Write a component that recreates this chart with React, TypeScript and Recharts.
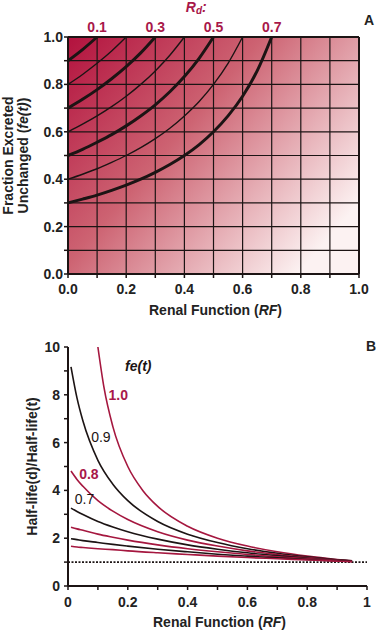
import React from "react";
import {
  LineChart,
  Line,
  XAxis,
  YAxis,
  CartesianGrid,
  ReferenceLine,
  ReferenceDot,
} from "recharts";

const FONT = "'Liberation Sans', Arial, sans-serif";
const INK = "#1c1414";
const CRIMSON = "#a5173f";
const LABEL_RED = "#a8184a";

// panel A: Rd contours, [renal function, fe(t)]
const rd01: number[][] = [[0, 0.9], [0.05, 0.947], [0.1, 1.0]];
const rd02: number[][] = [[0, 0.8], [0.05, 0.842], [0.1, 0.889], [0.15, 0.941], [0.2, 1.0]];
const rd03: number[][] = [
  [0, 0.7], [0.05, 0.737], [0.1, 0.778], [0.15, 0.824], [0.2, 0.875], [0.25, 0.933], [0.3, 1.0],
];
const rd04: number[][] = [
  [0, 0.6], [0.05, 0.632], [0.1, 0.667], [0.15, 0.706], [0.2, 0.75], [0.25, 0.8],
  [0.3, 0.857], [0.35, 0.923], [0.4, 1.0],
];
const rd05: number[][] = [
  [0, 0.5], [0.05, 0.526], [0.1, 0.556], [0.15, 0.588], [0.2, 0.625], [0.25, 0.667],
  [0.3, 0.714], [0.35, 0.769], [0.4, 0.833], [0.45, 0.909], [0.5, 1.0],
];
const rd06: number[][] = [
  [0, 0.4], [0.05, 0.421], [0.1, 0.444], [0.15, 0.471], [0.2, 0.5], [0.25, 0.533],
  [0.3, 0.571], [0.35, 0.615], [0.4, 0.667], [0.45, 0.727], [0.5, 0.8], [0.55, 0.889], [0.6, 1.0],
];
const rd07: number[][] = [
  [0, 0.3], [0.05, 0.316], [0.1, 0.333], [0.15, 0.353], [0.2, 0.375], [0.25, 0.4],
  [0.3, 0.429], [0.35, 0.462], [0.4, 0.5], [0.45, 0.545], [0.5, 0.6], [0.55, 0.667],
  [0.6, 0.75], [0.65, 0.857], [0.7, 1.0],
];
const rdLabels = ["0.1", "0.3", "0.5", "0.7"];
const tenthTicks = [0, 0.1, 0.2, 0.3, 0.4, 0.5, 0.6, 0.7, 0.8, 0.9, 1.0];

// panel B: half-life ratio per fe(t)
const rfB = [0.01, 0.03, 0.05, 0.1, 0.15, 0.2, 0.3, 0.4, 0.5, 0.6, 0.7, 0.8, 0.9, 0.95];
const fe09 = [9.17, 7.87, 6.9, 5.26, 4.26, 3.57, 2.7, 2.17, 1.82, 1.56, 1.37, 1.22, 1.1, 1.05];
const fe08 = [4.81, 4.46, 4.17, 3.57, 3.13, 2.78, 2.27, 1.92, 1.67, 1.47, 1.32, 1.19, 1.09, 1.04];
const fe07 = [3.26, 3.12, 2.99, 2.7, 2.47, 2.27, 1.96, 1.72, 1.54, 1.39, 1.27, 1.16, 1.08, 1.04];
const fe06 = [2.46, 2.39, 2.33, 2.17, 2.04, 1.92, 1.72, 1.56, 1.43, 1.32, 1.22, 1.14, 1.06, 1.03];
const fe05 = [1.98, 1.94, 1.9, 1.82, 1.74, 1.67, 1.54, 1.43, 1.33, 1.25, 1.18, 1.11, 1.05, 1.03];
const fe04 = [1.66, 1.63, 1.61, 1.56, 1.52, 1.47, 1.39, 1.32, 1.25, 1.19, 1.14, 1.09, 1.04, 1.02];
const rfB10 = [0.1, 0.12, 0.15, 0.2, 0.25, 0.3, 0.4, 0.5, 0.6, 0.7, 0.8, 0.9, 0.95];
const fe10 = [10, 8.33, 6.67, 5.0, 4.0, 3.33, 2.5, 2.0, 1.67, 1.43, 1.25, 1.11, 1.05];
const ratioTicks = [0, 1, 2, 3, 4, 5, 6, 7, 8, 9, 10];

const pairs = (pts: number[][]) => pts.map(([x, y]) => ({ x, y }));
const zip = (xs: number[], ys: number[]) => xs.map((x, i) => ({ x, y: ys[i] }));

const contoursA = [
  { data: pairs(rd01), thick: true },
  { data: pairs(rd02), thick: false },
  { data: pairs(rd03), thick: true },
  { data: pairs(rd04), thick: false },
  { data: pairs(rd05), thick: true },
  { data: pairs(rd06), thick: false },
  { data: pairs(rd07), thick: true },
];

const curvesB = [
  { data: zip(rfB10, fe10), color: CRIMSON },
  { data: zip(rfB, fe09), color: INK },
  { data: zip(rfB, fe08), color: CRIMSON },
  { data: zip(rfB, fe07), color: INK },
  { data: zip(rfB, fe06), color: CRIMSON },
  { data: zip(rfB, fe05), color: INK },
  { data: zip(rfB, fe04), color: CRIMSON },
];

const tickStyle = { fontSize: 14, fontWeight: "bold", fill: "#222", fontFamily: FONT };

const evenTenth = (v: number) => (Math.round(v * 10) % 2 === 0 ? v.toFixed(1) : "");

const xTitle = (props: any) => {
  const vb = props.viewBox || { x: 68, y: 274, width: 291, height: 44 };
  return (
    <text
      x={vb.x + vb.width / 2 + 2}
      y={vb.y + 41}
      textAnchor="middle"
      fontSize={14}
      fontWeight="bold"
      fill="#222"
      fontFamily={FONT}
    >
      Renal Function (<tspan fontStyle="italic">RF</tspan>)
    </text>
  );
};

const yTitleA = (props: any) => {
  const vb = props.viewBox || { x: 0, y: 37, width: 68, height: 237 };
  const cy = vb.y + vb.height / 2;
  return (
    <g transform={`translate(0, ${cy}) rotate(-90)`} fontFamily={FONT} fontWeight="bold" fontSize={14} fill="#222">
      <text x={0} y={13} textAnchor="middle">Fraction Excreted</text>
      <text x={0} y={28} textAnchor="middle">
        Unchanged (<tspan fontStyle="italic">fe(t)</tspan>)
      </text>
    </g>
  );
};

const yTitleB = (props: any) => {
  const vb = props.viewBox || { x: 0, y: 347, width: 68, height: 239 };
  const cy = vb.y + vb.height / 2;
  return (
    <text
      transform={`translate(37, ${cy}) rotate(-90)`}
      textAnchor="middle"
      fontSize={14}
      fontWeight="bold"
      fill="#222"
      fontFamily={FONT}
    >
      Half-life(d)/Half-life(t)
    </text>
  );
};

// "Rd:" heading above the contour labels
const rdTitle = (props: any) => {
  const vb = props.viewBox || { cx: 186, cy: 37 };
  const x = vb.cx ?? vb.x;
  const y = vb.cy ?? vb.y;
  return (
    <text x={x} y={y - 25} fontSize={14} fontWeight="bold" fontStyle="italic" fill={LABEL_RED} fontFamily={FONT}>
      R<tspan fontSize={10} dy={2}>d</tspan>
      <tspan dy={-2}>:</tspan>
    </text>
  );
};

const topLabel = (value: string) => ({
  value,
  position: "top" as const,
  offset: 5,
  fill: LABEL_RED,
  fontSize: 14,
  fontWeight: "bold",
  fontFamily: FONT,
});

function PanelA() {
  return (
    <LineChart width={376} height={318} margin={{ top: 37, right: 17, bottom: 0, left: 0 }}>
      <defs>
        <linearGradient id="gradA" x1="0" y1="0" x2="1" y2="0.7">
          <stop offset="0" stopColor="#b3123e" />
          <stop offset="0.45" stopColor="#cd6372" />
          <stop offset="1" stopColor="#fcf2f2" />
        </linearGradient>
      </defs>
      <CartesianGrid stroke={INK} strokeWidth={1.2} fill="url(#gradA)" fillOpacity={1} />
      <XAxis
        dataKey="x"
        type="number"
        domain={[0, 1]}
        ticks={tenthTicks}
        interval={0}
        tickFormatter={evenTenth}
        height={44}
        tickSize={4}
        tickMargin={6}
        axisLine={{ stroke: INK, strokeWidth: 2 }}
        tickLine={{ stroke: INK, strokeWidth: 1.5 }}
        tick={tickStyle}
        label={{ content: xTitle }}
      />
      <YAxis
        type="number"
        domain={[0, 1]}
        ticks={tenthTicks}
        interval={0}
        tickFormatter={evenTenth}
        width={68}
        tickSize={4}
        tickMargin={1}
        axisLine={{ stroke: INK, strokeWidth: 2 }}
        tickLine={{ stroke: INK, strokeWidth: 1.5 }}
        tick={tickStyle}
        label={{ content: yTitleA }}
      />
      <ReferenceLine y={1} stroke={INK} strokeWidth={2} />
      <ReferenceLine x={1} stroke={INK} strokeWidth={2} />
      {contoursA.map((c, i) => (
        <Line
          key={i}
          data={c.data}
          dataKey="y"
          type="monotone"
          stroke={INK}
          strokeWidth={c.thick ? 3 : 1.4}
          dot={false}
          isAnimationActive={false}
        />
      ))}
      {rdLabels.map((v) => (
        <ReferenceDot key={v} x={Number(v)} y={1} r={0} stroke="none" fill="none" label={topLabel(v)} />
      ))}
      <ReferenceDot x={0.405} y={1} r={0} stroke="none" fill="none" label={{ content: rdTitle }} />
    </LineChart>
  );
}

const labelB = (value: string, color: string, bold: boolean, italic = false) => ({
  value,
  position: "center" as const,
  fill: color,
  fontSize: 14,
  fontWeight: bold ? "bold" : "normal",
  fontStyle: italic ? "italic" : "normal",
  fontFamily: FONT,
});

function PanelB() {
  return (
    <LineChart width={376} height={312} margin={{ top: 29, right: 9, bottom: 0, left: 0 }}>
      <XAxis
        dataKey="x"
        type="number"
        domain={[0, 1]}
        ticks={tenthTicks}
        interval={0}
        tickFormatter={(v: number) =>
          Math.round(v * 10) % 2 !== 0 ? "" : v === 0 ? "0" : v === 1 ? "1" : v.toFixed(1)
        }
        height={44}
        tickSize={4}
        tickMargin={7}
        axisLine={{ stroke: INK, strokeWidth: 2 }}
        tickLine={{ stroke: INK, strokeWidth: 1.5 }}
        tick={tickStyle}
        label={{ content: xTitle }}
      />
      <YAxis
        type="number"
        domain={[0, 10]}
        ticks={ratioTicks}
        interval={0}
        tickFormatter={(v: number) => (v % 2 === 0 ? String(v) : "")}
        width={68}
        tickSize={4}
        tickMargin={4}
        axisLine={{ stroke: INK, strokeWidth: 2 }}
        tickLine={{ stroke: INK, strokeWidth: 1.5 }}
        tick={tickStyle}
        label={{ content: yTitleB }}
      />
      <ReferenceLine y={1} stroke={INK} strokeWidth={1.6} strokeDasharray="2 1.5" />
      {curvesB.map((c, i) => (
        <Line
          key={i}
          data={c.data}
          dataKey="y"
          type="monotone"
          stroke={c.color}
          strokeWidth={1.6}
          dot={false}
          isAnimationActive={false}
        />
      ))}
      <ReferenceDot x={0.235} y={9.2} r={0} stroke="none" fill="none" label={labelB("fe(t)", INK, true, true)} />
      <ReferenceDot x={0.168} y={8.0} r={0} stroke="none" fill="none" label={labelB("1.0", LABEL_RED, true)} />
      <ReferenceDot x={0.11} y={6.25} r={0} stroke="none" fill="none" label={labelB("0.9", INK, false)} />
      <ReferenceDot x={0.07} y={4.7} r={0} stroke="none" fill="none" label={labelB("0.8", LABEL_RED, true)} />
      <ReferenceDot x={0.055} y={3.65} r={0} stroke="none" fill="none" label={labelB("0.7", INK, false)} />
    </LineChart>
  );
}

export default function App() {
  return (
    <div style={{ position: "absolute", left: 0, top: 0, width: 376, height: 630, background: "#fff", fontFamily: FONT }}>
      <PanelA />
      <PanelB />
      <div style={{ position: "absolute", left: 364, top: 12, fontSize: 14, fontWeight: "bold", color: "#222" }}>A</div>
      <div style={{ position: "absolute", left: 366, top: 338, fontSize: 14, fontWeight: "bold", color: "#222" }}>B</div>
    </div>
  );
}
